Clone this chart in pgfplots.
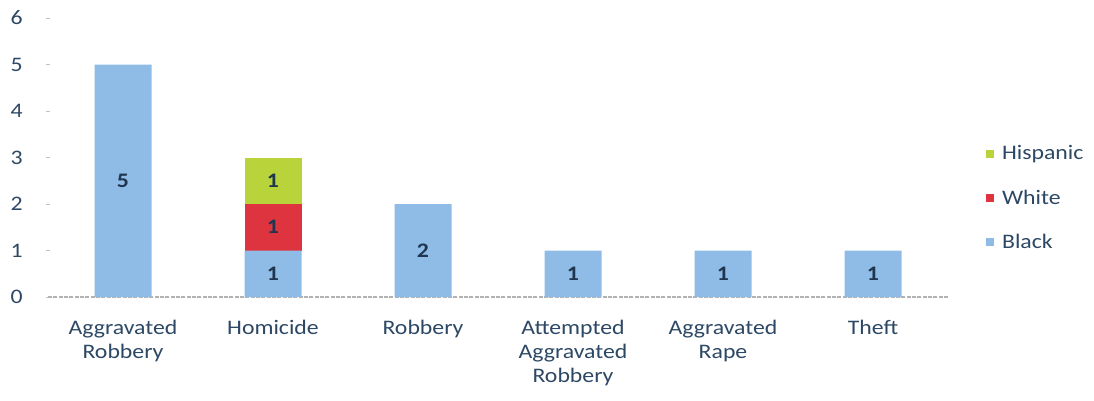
\documentclass[border=0pt]{standalone}
\usepackage{fontspec}
\setmainfont{Carlito}[FakeStretch=1.15]
\usepackage{pgfplots}
\pgfplotsset{compat=1.18}
\definecolor{cblue}{HTML}{8FBCE6}
\definecolor{cred}{HTML}{DE3440}
\definecolor{cgreen}{HTML}{B8D43A}
\definecolor{ctext}{HTML}{2D4864}
\definecolor{cnum}{HTML}{1F3550}
\pgfplotsset{base/.style={scale only axis, width=675pt, height=209.25pt,
  xmin=-0.5, xmax=5.5, ymin=0, ymax=6}}
\begin{document}
\begin{tikzpicture}
\begin{axis}[name=ax, base,
  ybar stacked, bar width=42.75pt,
  xtick={0,...,5},
  xticklabels={{Aggravated\\Robbery},{Homicide},{Robbery},{Attempted\\Aggravated\\Robbery},{Aggravated\\Rape},{Theft}},
  xticklabel style={align=center, font=\fontsize{15.5}{18}\selectfont, text=ctext, yshift=-12pt},
  xtick style={draw=none},
  ytick={0,...,6},
  yticklabel style={font=\fontsize{15.5}{18}\selectfont, text=ctext, xshift=-14pt},
  ytick style={draw=gray!50, line width=0.6pt},
  tick align=outside, major tick length=3pt,
  /pgf/number format/assume math mode=true,
  axis y line=left, y axis line style={draw=none},
  axis x line=bottom, x axis line style={draw=gray!60, line width=0.8pt, dash pattern=on 3pt off 1pt, -},
  enlarge x limits=false,
  legend style={at={(1.042,0.355)}, anchor=west, draw=none, fill=none, inner sep=0pt,
    font=\fontsize{15.5}{18}\selectfont, text=ctext, row sep=17pt},
  legend cell align=left,
  legend image code/.code={\fill[#1,draw=none] (0pt,-3pt) rectangle (6pt,3pt); \path[draw=none,fill=none] (0pt,0pt) rectangle (10pt,0.1pt);},
]
\addplot[fill=cblue, draw=none, forget plot] coordinates {(0,5) (1,1) (2,2) (3,1) (4,1) (5,1)};
\addplot[fill=cred, draw=none, forget plot] coordinates {(0,0) (1,1) (2,0) (3,0) (4,0) (5,0)};
\addplot[fill=cgreen, draw=none, forget plot] coordinates {(0,0) (1,1) (2,0) (3,0) (4,0) (5,0)};
\addlegendimage{fill=cgreen}
\addlegendentry{Hispanic}
\addlegendimage{fill=cred}
\addlegendentry{White}
\addlegendimage{fill=cblue}
\addlegendentry{Black}
\end{axis}
\begin{axis}[base, hide axis]
\addplot[draw=none, mark=none, nodes near coords, point meta=explicit symbolic,
  every node near coord/.append style={anchor=center, font=\fontsize{15.5}{18}\selectfont\bfseries, text=cnum}]
  coordinates {(0,2.5)[5] (1,0.5)[1] (1,1.5)[1] (1,2.5)[1] (2,1)[2] (3,0.5)[1] (4,0.5)[1] (5,0.5)[1]};
\end{axis}
\pgfresetboundingbox
\path (ax.south west) ++(-36pt,-77.25pt) rectangle ++(820.5pt,300pt);
\end{tikzpicture}
\end{document}
